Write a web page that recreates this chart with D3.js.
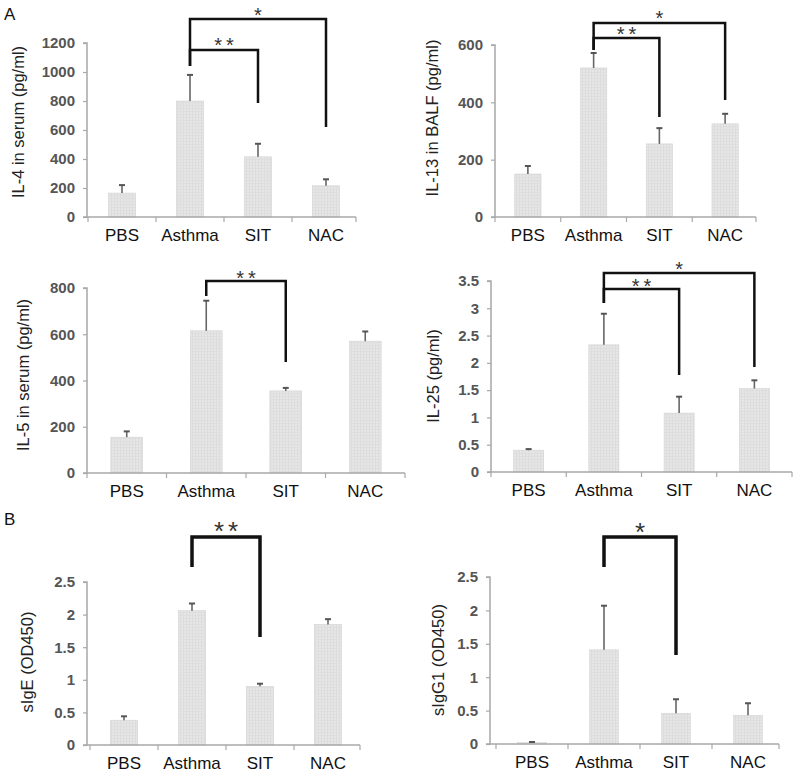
<!DOCTYPE html>
<html>
<head>
<meta charset="utf-8">
<script src="https://cdn.jsdelivr.net/npm/d3@7"></script>
<style>
  html, body { margin: 0; padding: 0; background: #fff; }
  svg { display: block; }
  text { font-family: Arial, "Liberation Sans", sans-serif; }
</style>
</head>
<body>
<script>
// ---------- DATA ----------
const categories = ["PBS", "Asthma", "SIT", "NAC"];

const il4Values   = [165, 800, 415, 215];
const il4ErrTop   = [220, 980, 505, 260];
const il4Ticks    = [0, 200, 400, 600, 800, 1000, 1200];

const il13Values  = [150, 520, 255, 325];
const il13ErrTop  = [178, 572, 310, 360];
const il13Ticks   = [0, 200, 400, 600];

const il5Values   = [155, 615, 355, 570];
const il5ErrTop   = [180, 745, 368, 612];
const il5Ticks    = [0, 200, 400, 600, 800];

const il25Values  = [0.40, 2.33, 1.08, 1.53];
const il25ErrTop  = [0.42, 2.90, 1.38, 1.68];
const il25Ticks   = [0, 0.5, 1, 1.5, 2, 2.5, 3, 3.5];

const igeValues   = [0.38, 2.06, 0.90, 1.85];
const igeErrTop   = [0.44, 2.17, 0.94, 1.93];
const igeTicks    = [0, 0.5, 1, 1.5, 2, 2.5];

const igg1Values  = [0.02, 1.41, 0.46, 0.43];
const igg1ErrTop  = [0.03, 2.07, 0.67, 0.61];
const igg1Ticks   = [0, 0.5, 1, 1.5, 2, 2.5];

const yLabels = ["IL-4 in serum (pg/ml)", "IL-13 in BALF (pg/ml)", "IL-5 in serum (pg/ml)",
                 "IL-25 (pg/ml)", "sIgE (OD450)", "sIgG1 (OD450)"];

// significance comparisons: [from, to, label]
const il4Sig  = [["Asthma", "NAC", "*"], ["Asthma", "SIT", "**"]];
const il13Sig = [["Asthma", "NAC", "*"], ["Asthma", "SIT", "**"]];
const il5Sig  = [["Asthma", "SIT", "**"]];
const il25Sig = [["Asthma", "NAC", "*"], ["Asthma", "SIT", "**"]];
const igeSig  = [["Asthma", "SIT", "**"]];
const igg1Sig = [["Asthma", "SIT", "*"]];

// ---------- LAYOUT ----------
const panels = [
  { values: il4Values, err: il4ErrTop, ticks: il4Ticks, label: yLabels[0], sig: il4Sig,
    axisX: [87, 356], band: [88, 360], yRange: [217, 43], labelX: 18, labelY: 122,
    sigLayout: [{ y: 19, l: 66, r: 127, sy: 11, fs: 20 }, { y: 50, l: 66, r: 103, sy: 41, fs: 20 }], lw: 2.5 },
  { values: il13Values, err: il13ErrTop, ticks: il13Ticks, label: yLabels[1], sig: il13Sig,
    axisX: [495, 756], band: [495, 758], yRange: [217, 45], labelX: 432, labelY: 118,
    sigLayout: [{ y: 23, l: 50, r: 100, sy: 14, fs: 20 }, { y: 38, l: 50, r: 117, sy: 30, fs: 20 }], lw: 2.5 },
  { values: il5Values, err: il5ErrTop, ticks: il5Ticks, label: yLabels[2], sig: il5Sig,
    axisX: [87, 405], band: [87, 405], yRange: [473, 288], labelX: 23, labelY: 375,
    sigLayout: [{ y: 281, l: 296, r: 362, sy: 274, fs: 20 }], lw: 2.5 },
  { values: il25Values, err: il25ErrTop, ticks: il25Ticks, label: yLabels[3], sig: il25Sig,
    axisX: [491, 792], band: [491, 792], yRange: [472, 281], labelX: 433, labelY: 376,
    sigLayout: [{ y: 273, l: 303, r: 367, sy: 265, fs: 20 }, { y: 289, l: 303, r: 375, sy: 282, fs: 20 }], lw: 2.5 },
  { values: igeValues, err: igeErrTop, ticks: igeTicks, label: yLabels[4], sig: igeSig,
    axisX: [87, 360], band: [90, 362], yRange: [745, 582], labelX: 27, labelY: 662,
    sigLayout: [{ y: 537, l: 567, r: 637, sy: 525, fs: 26 }], lw: 3.5 },
  { values: igg1Values, err: igg1ErrTop, ticks: igg1Ticks, label: yLabels[5], sig: igg1Sig,
    axisX: [490, 779], band: [496, 784], yRange: [744, 577], labelX: 438, labelY: 660,
    sigLayout: [{ y: 537, l: 567, r: 655, sy: 526, fs: 26 }], lw: 3.5 }
];

const W = 800, H = 779;
const svg = d3.select("body").append("svg").attr("width", W).attr("height", H);

// bar texture pattern
const defs = svg.append("defs");
const pat = defs.append("pattern").attr("id", "tex").attr("patternUnits", "userSpaceOnUse")
  .attr("width", 3).attr("height", 3);
pat.append("rect").attr("width", 3).attr("height", 3).attr("fill", "#e6e6e6");
pat.append("rect").attr("width", 1).attr("height", 3).attr("fill", "#dcdcdc");
pat.append("rect").attr("width", 3).attr("height", 1).attr("fill", "#dedede");

// panel letters
svg.append("text").attr("x", 4).attr("y", 20).attr("font-size", 17).attr("fill", "#111").text("A");
svg.append("text").attr("x", 4).attr("y", 525).attr("font-size", 17).attr("fill", "#111").text("B");

panels.forEach(p => {
  const g = svg.append("g");
  const ymax = p.ticks[p.ticks.length - 1];
  const y = d3.scaleLinear().domain([0, ymax]).range(p.yRange);
  const x = d3.scaleBand().domain(categories).range(p.band).paddingInner(0.6).paddingOuter(0.3);
  const y0 = p.yRange[0];

  // bars
  g.selectAll("rect.bar").data(categories).join("rect")
    .attr("class", "bar")
    .attr("x", d => x(d))
    .attr("width", x.bandwidth())
    .attr("y", (d, i) => y(p.values[i]))
    .attr("height", (d, i) => y0 - y(p.values[i]))
    .attr("fill", "url(#tex)")
    .attr("stroke", "#d4d4d4").attr("stroke-width", 0.6);

  // error bars (upper)
  const eb = g.selectAll("g.err").data(categories).join("g").attr("class", "err");
  eb.append("line")
    .attr("x1", d => x(d) + x.bandwidth() / 2).attr("x2", d => x(d) + x.bandwidth() / 2)
    .attr("y1", (d, i) => y(p.values[i])).attr("y2", (d, i) => y(p.err[i]))
    .attr("stroke", "#666").attr("stroke-width", 1.6);
  eb.append("line")
    .attr("x1", d => x(d) + x.bandwidth() / 2 - 3).attr("x2", d => x(d) + x.bandwidth() / 2 + 3)
    .attr("y1", (d, i) => y(p.err[i])).attr("y2", (d, i) => y(p.err[i]))
    .attr("stroke", "#555").attr("stroke-width", 2);

  // y axis
  const yAxis = d3.axisLeft(y).tickValues(p.ticks).tickSize(4).tickPadding(8)
    .tickFormat(d3.format("~g"));
  const ya = g.append("g").attr("transform", `translate(${p.axisX[0]},0)`).call(yAxis);
  ya.select(".domain").attr("stroke", "#a8a8a8").attr("stroke-width", 1.5)
    .attr("d", `M-4,${y0}H0V${p.yRange[1]}H-4`);
  ya.selectAll(".tick line").attr("stroke", "#a8a8a8").attr("stroke-width", 1.2);
  ya.selectAll(".tick text").attr("font-size", 15).attr("font-weight", "bold").attr("fill", "#555")
    .attr("font-family", "Arial, 'Liberation Sans', sans-serif");

  // x axis
  const xAxis = d3.axisBottom(x).tickSize(0).tickPadding(12);
  const xa = g.append("g").attr("transform", `translate(0,${y0})`).call(xAxis);
  xa.select(".domain").attr("stroke", "#a8a8a8").attr("stroke-width", 1.5)
    .attr("d", `M${p.axisX[0]},0H${p.axisX[1]}`);
  xa.selectAll(".tick text").attr("font-size", 17).attr("fill", "#111")
    .attr("font-family", "Arial, 'Liberation Sans', sans-serif");
  // tick marks between categories
  const step = x.step();
  const bounds = d3.range(categories.length + 1).map(i => p.band[0] + i * step);
  xa.selectAll("line.sep").data(bounds).join("line").attr("class", "sep")
    .attr("x1", d => Math.min(d, p.axisX[1])).attr("x2", d => Math.min(d, p.axisX[1]))
    .attr("y1", 0).attr("y2", 5).attr("stroke", "#a8a8a8").attr("stroke-width", 1.2);

  // y label
  g.append("text")
    .attr("transform", `translate(${p.labelX},${p.labelY}) rotate(-90)`)
    .attr("text-anchor", "middle").attr("dominant-baseline", "central")
    .attr("font-size", 16.5).attr("fill", "#222").text(p.label);

  // significance brackets
  p.sig.forEach((s, k) => {
    const L = p.sigLayout[k];
    const xa1 = x(s[0]) + x.bandwidth() / 2;
    const xb = x(s[1]) + x.bandwidth() / 2;
    g.append("path")
      .attr("d", `M${xa1},${L.l}V${L.y}H${xb}V${L.r}`)
      .attr("fill", "none").attr("stroke", "#111").attr("stroke-width", p.lw)
      .attr("stroke-linejoin", "miter");
    const ls = s[2].length > 1 ? 4 : 0;
    g.append("text")
      .attr("x", (xa1 + xb) / 2 + ls / 2).attr("y", L.sy + L.fs * 0.57)
      .attr("text-anchor", "middle").attr("font-size", L.fs).attr("fill", "#333")
      .attr("letter-spacing", ls)
      .text(s[2]);
  });
});
</script>
</body>
</html>
